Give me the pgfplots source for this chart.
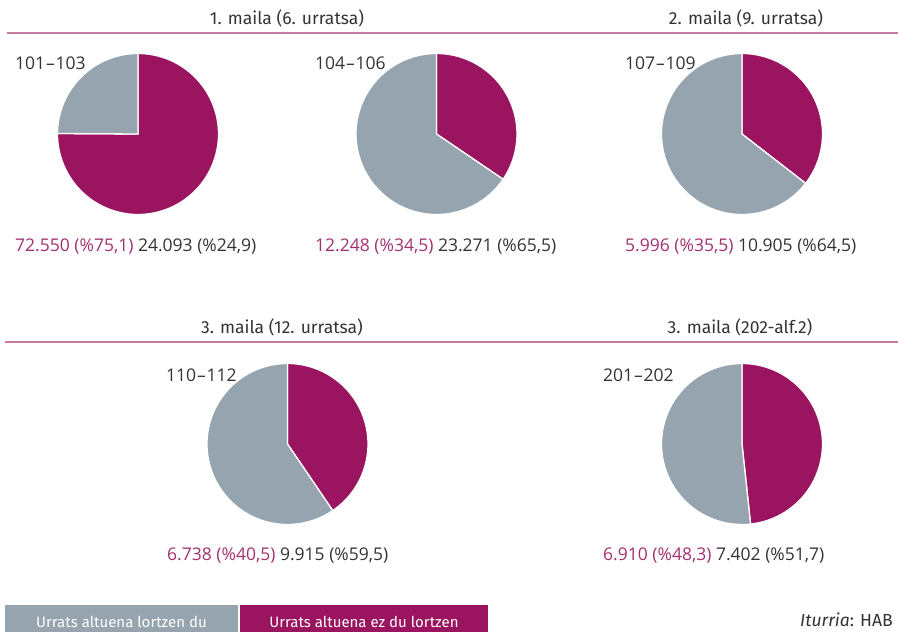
\documentclass[border=0pt]{standalone}
\usepackage{pgfplots}
\pgfplotsset{compat=1.18}
\usepackage{fontspec}
\setmainfont{Fira Sans}
\newfontfamily\valfont{Open Sans}
\definecolor{pgrey}{HTML}{95A4AF}
\definecolor{pmag}{HTML}{9B1460}
\definecolor{ptxt}{HTML}{333333}
\definecolor{pmtxt}{HTML}{A3306F}
\definecolor{pline}{HTML}{C47A9F}
% #1 cx, #2 cy (pt, downward), #3 magenta share in percent
\newcommand{\pie}[3]{%
  \pgfmathsetmacro{\ang}{90-3.6*#3}%
  \begin{axis}[at={(#1pt,-#2pt)}, anchor=center, x=80.5pt, y=80.5pt,
      xmin=-1, xmax=1, ymin=-1, ymax=1, hide axis, scale only axis, clip=false]
    \addplot[fill=pmag, draw=white, line width=1.3pt, line join=round, domain=\ang:90, samples=150]
      ({cos(x)},{sin(x)}) -- (axis cs:0,0) -- cycle;
    \addplot[fill=pgrey, draw=white, line width=1.3pt, line join=round, domain=-270:\ang, samples=150]
      ({cos(x)},{sin(x)}) -- (axis cs:0,0) -- cycle;
  \end{axis}}
\newcommand{\dsh}{\kern0.8pt–\kern0.8pt}
\begin{document}
\begin{tikzpicture}[x=1pt,y=-1pt]
\path[use as bounding box] (0,0) rectangle (898,632);
\fontsize{17.5}{20}\selectfont
% header lines
\draw[pline, line width=1.6pt] (7,33) -- (898,33);
\draw[pline, line width=1.6pt] (5,342) -- (898,342);
\node[ptxt] at (287,18) {1. maila (6. urratsa)};
\node[ptxt] at (746,18) {2. maila (9. urratsa)};
\node[ptxt] at (282,327) {3. maila (12. urratsa)};
\node[ptxt] at (740,327) {3. maila (202-alf.2)};
% pies
\pie{138}{134}{75.1}
\pie{436.5}{134}{34.5}
\pie{742}{134}{35.5}
\pie{287.5}{444}{40.5}
\pie{742}{444}{48.3}
\valfont\fontsize{17.5}{20}\selectfont
% group labels
\node[ptxt, anchor=west, inner sep=0pt] at (15,63) {101\dsh103};
\node[ptxt, anchor=west, inner sep=0pt] at (315,63) {104\dsh106};
\node[ptxt, anchor=west, inner sep=0pt] at (625,63) {107\dsh109};
\node[ptxt, anchor=west, inner sep=0pt] at (166,375) {110\dsh112};
\node[ptxt, anchor=west, inner sep=0pt] at (603,375) {201\dsh202};
% values
\node[ptxt, anchor=west, inner sep=0pt] at (15,247) {{\color{pmtxt}72.550 (\%75,1)} 24.093 (\%24,9)};
\node[ptxt, anchor=west, inner sep=0pt] at (315,247) {{\color{pmtxt}12.248 (\%34,5)} 23.271 (\%65,5)};
\node[ptxt, anchor=west, inner sep=0pt] at (625,247) {{\color{pmtxt}5.996 (\%35,5)} 10.905 (\%64,5)};
\node[ptxt, anchor=west, inner sep=0pt] at (167,556) {{\color{pmtxt}6.738 (\%40,5)} 9.915 (\%59,5)};
\node[ptxt, anchor=west, inner sep=0pt] at (603,556) {{\color{pmtxt}6.910 (\%48,3)} 7.402 (\%51,7)};
\rmfamily
% legend
\fill[pgrey] (5,605) rectangle (238,632);
\fill[pmag] (240,605) rectangle (488,632);
{\fontsize{15}{18}\selectfont
\node[white] at (121.5,622) {Urrats altuena lortzen du};
\node[white] at (364,622) {Urrats altuena ez du lortzen};}
\node[ptxt, anchor=west, inner sep=0pt] at (800,620) {\fontsize{17.5}{20}\selectfont\textit{Iturria}: HAB};
\end{tikzpicture}
\end{document}
